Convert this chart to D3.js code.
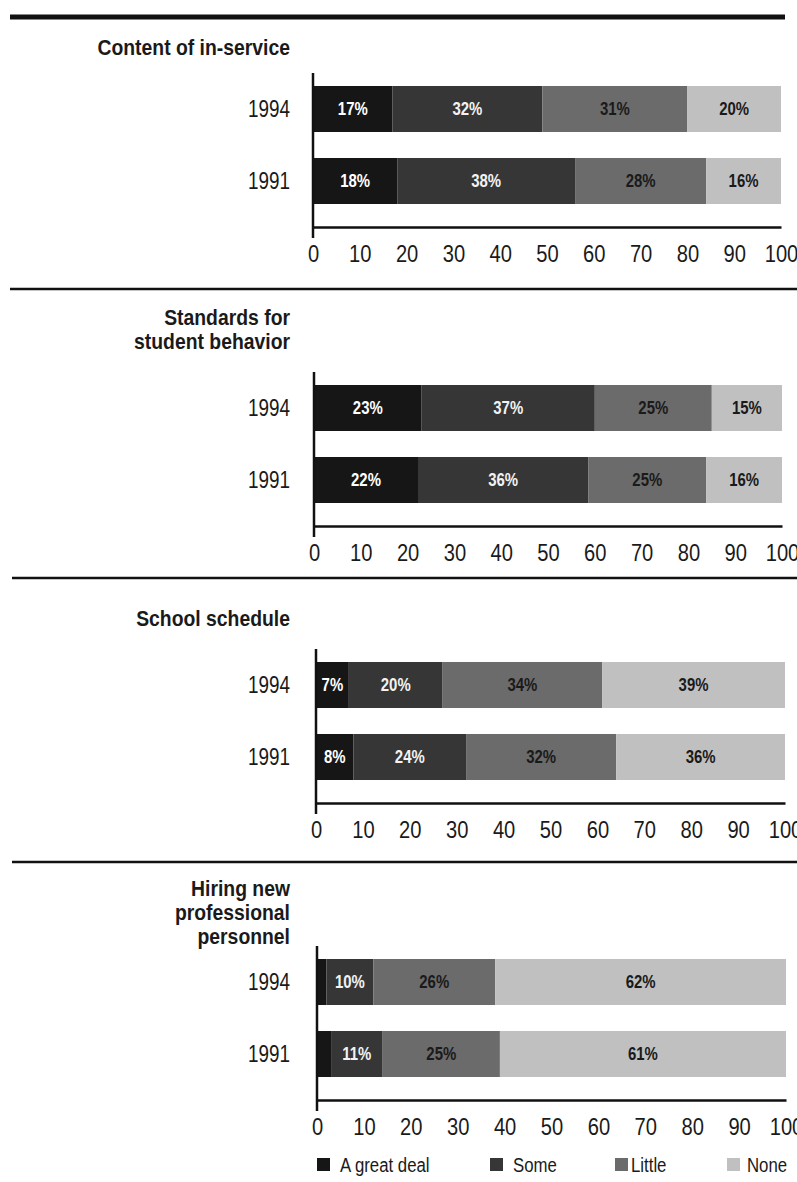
<!DOCTYPE html>
<html>
<head>
<meta charset="utf-8">
<script src="https://cdn.jsdelivr.net/npm/d3@7"></script>
<style>
  html, body { margin: 0; padding: 0; background: #fff; }
  svg { display: block; }
  text { font-family: 'Liberation Sans', Arial, sans-serif; }
</style>
</head>
<body>
<svg id="chart" width="797" height="1182"></svg>
<script>
// ---------------- data ----------------
const titles = [
  ["Content of in-service"],
  ["Standards for", "student behavior"],
  ["School schedule"],
  ["Hiring new", "professional", "personnel"]
];
const years = ["1994", "1991"];
const levels = ["A great deal", "Some", "Little", "None"];
// [1994, 1991] per panel
const greatDeal = [[17, 18], [23, 22], [7, 8], [2, 3]];
const some      = [[32, 38], [37, 36], [20, 24], [10, 11]];
const little    = [[31, 28], [25, 25], [34, 32], [26, 25]];
const none      = [[20, 16], [15, 16], [39, 36], [62, 61]];
const tickValues = [0, 10, 20, 30, 40, 50, 60, 70, 80, 90, 100];

// ---------------- layout ----------------
const colors = ["#161616", "#363636", "#6b6b6b", "#c0c0c0"];
const labelColors = ["#ffffff", "#f2f2f2", "#1a1a1a", "#1a1a1a"];
const panelLayout = [
  { sep: 17, sepW: 5, sepX0: 10, sepX1: 785, titleY: 47, barTop: 86, x0: 313, x1: 781 },
  { sep: 289, sepW: 2.5, sepX0: 10, sepX1: 797, titleY: 317, barTop: 385, x0: 314, x1: 782 },
  { sep: 578, sepW: 2.5, sepX0: 12, sepX1: 797, titleY: 618, barTop: 662, x0: 316, x1: 785 },
  { sep: 862, sepW: 2.5, sepX0: 12, sepX1: 797, titleY: 888, barTop: 959, x0: 317, x1: 786 }
];
const barH = 46, barStep = 72, axisOff = 141;
const labelRight = 290;

const svg = d3.select("#chart");
const series = [greatDeal, some, little, none];

// condensed text helper
function ctext(parent, x, y, str, o) {
  const g = parent.append("g").attr("transform", `translate(${x},${y}) scale(${o.sx || 0.83},1)`);
  return g.append("text")
    .attr("text-anchor", o.anchor || "start")
    .attr("dominant-baseline", "central")
    .attr("font-size", o.size)
    .attr("font-weight", o.weight || "normal")
    .attr("fill", o.fill || "#1a1a1a")
    .text(str);
}

titles.forEach((tl, p) => {
  const L = panelLayout[p];
  const g = svg.append("g");

  g.append("line")
    .attr("x1", L.sepX0).attr("x2", L.sepX1)
    .attr("y1", L.sep).attr("y2", L.sep)
    .attr("stroke", "#111").attr("stroke-width", L.sepW);

  tl.forEach((line, i) => {
    ctext(g, labelRight, L.titleY + i * 24, line, { size: 22, weight: "bold", anchor: "end", sx: 0.88 });
  });

  const x = d3.scaleLinear().domain([0, 100]).range([L.x0, L.x1]);
  const y = d3.scaleBand().domain(years)
    .range([L.barTop, L.barTop + barStep + barH])
    .paddingInner((barStep - barH) / barStep).paddingOuter(0);

  const rows = years.map((yr, yi) => {
    const o = { year: yr };
    levels.forEach((lv, li) => { o[lv] = series[li][p][yi]; });
    return o;
  });
  const stacked = d3.stack().keys(levels).offset(d3.stackOffsetExpand)(rows);

  stacked.forEach((s, li) => {
    const sg = g.append("g");
    sg.selectAll("rect").data(s).enter().append("rect")
      .attr("x", d => x(d[0] * 100))
      .attr("y", d => y(d.data.year))
      .attr("width", d => x(d[1] * 100) - x(d[0] * 100))
      .attr("height", y.bandwidth())
      .attr("fill", colors[li]);
    s.filter(d => d.data[levels[li]] >= 5).forEach(d => {
      ctext(sg, x((d[0] + d[1]) * 50), y(d.data.year) + y.bandwidth() / 2,
        d.data[levels[li]] + "%", { size: 18, weight: "bold", anchor: "middle", fill: labelColors[li], sx: 0.83 });
    });
  });

  years.forEach(yr => {
    ctext(g, labelRight, y(yr) + y.bandwidth() / 2, yr, { size: 23, anchor: "end", sx: 0.82 });
  });

  const axisY = L.barTop + axisOff;
  const ax = g.append("g").attr("transform", `translate(0,${axisY})`)
    .call(d3.axisBottom(x).tickValues(tickValues).tickSize(0).tickPadding(0).tickFormat(d3.format("d")));
  ax.select(".domain").attr("stroke", "#111").attr("stroke-width", 2.5);
  ax.selectAll(".tick text")
    .attr("font-size", 24).attr("fill", "#1a1a1a")
    .attr("font-family", "'Liberation Sans', Arial, sans-serif")
    .attr("dy", null).attr("y", 27).attr("dominant-baseline", "central")
    .attr("transform", "scale(0.84,1)");

  g.append("line")
    .attr("x1", L.x0).attr("x2", L.x0)
    .attr("y1", L.barTop - 13).attr("y2", axisY + 11)
    .attr("stroke", "#111").attr("stroke-width", 2.5);
});

// legend
const legendSq = [317, 490, 615, 727];
const legendTx = [340, 513, 631, 747];
const legendY = 1165;
const lg = svg.append("g");
levels.forEach((lv, i) => {
  lg.append("rect")
    .attr("x", legendSq[i]).attr("y", legendY - 7)
    .attr("width", 13).attr("height", 13)
    .attr("fill", colors[i]);
  ctext(lg, legendTx[i], legendY, lv, { size: 21, sx: 0.8 });
});
</script>
</body>
</html>
